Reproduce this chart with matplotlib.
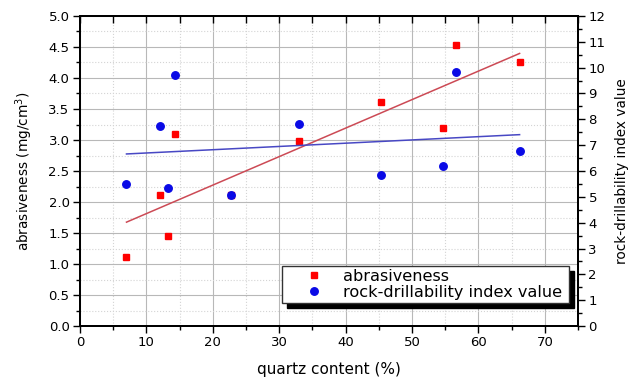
import numpy as np
import matplotlib.pyplot as plt
from matplotlib.ticker import MultipleLocator

plt.rcParams["mathtext.default"] = "regular"

# quartz content (%) of each rock sample
quartz = [7.0, 12.0, 13.3, 14.3, 22.8, 33.0, 45.4, 54.6, 56.6, 66.2]
# abrasiveness (mg/cm3), left axis
abrasiveness = [1.11, 2.11, 1.45, 3.10, 2.11, 2.99, 3.62, 3.20, 4.54, 4.25]
# rock-drillability index value, right axis
drillability = [5.51, 7.74, 5.33, 9.70, 5.06, 7.81, 5.86, 6.19, 9.83, 6.79]

RED = "#ff0000"
BLUE = "#0a0ae6"

fig = plt.figure(figsize=(6.38, 3.79), dpi=100)
ax = fig.add_axes([0.1254, 0.1398, 0.7806, 0.818])
ax2 = ax.twinx()

# linear fits drawn over the range of the samples
x_fit = np.array([min(quartz), max(quartz)])
a_fit = np.polyval(np.polyfit(quartz, abrasiveness, 1), x_fit)
d_fit = np.polyval(np.polyfit(quartz, drillability, 1), x_fit)

ax.plot(x_fit, a_fit, color="#cc4a55", lw=1.1)
h1, = ax.plot(quartz, abrasiveness, "s", color=RED, ms=5, mec=RED,
              label="abrasiveness")
ax2.plot(x_fit, d_fit, color="#4848c4", lw=1.1)
h2, = ax2.plot(quartz, drillability, "o", color=BLUE, ms=5.4, mec=BLUE,
               label="rock-drillability index value")

ax.set_xlim(0, 75)
ax.set_ylim(0, 5)
ax2.set_ylim(0, 12)

ax.xaxis.set_major_locator(MultipleLocator(10))
ax.xaxis.set_minor_locator(MultipleLocator(5))
ax.yaxis.set_major_locator(MultipleLocator(0.5))
ax.yaxis.set_minor_locator(MultipleLocator(0.25))
ax.yaxis.set_major_formatter("{x:.1f}")
ax2.yaxis.set_major_locator(MultipleLocator(1))
ax2.yaxis.set_minor_locator(MultipleLocator(0.5))

ax.grid(which="major", color="#b8b8b8", lw=0.8)
ax.grid(which="minor", color="#d4d4d4", lw=0.8, ls=":")
ax.set_axisbelow(True)

for a in (ax, ax2):
    a.tick_params(which="major", direction="out", length=5, width=1,
                  labelsize=9.5, pad=2.5)
    a.tick_params(which="minor", direction="out", length=3, width=1)
    for s in a.spines.values():
        s.set_linewidth(1.4)

# inward ticks along the top edge, every 5 %
ax2.xaxis.set_visible(True)
ax2.tick_params(axis="x", which="both", bottom=False, top=True,
                labelbottom=False, labeltop=False, direction="in",
                length=5, width=1)

ax.set_xlabel("quartz content (%)", fontsize=11, labelpad=9)
ax.set_ylabel("abrasiveness (mg/cm$^3$)", fontsize=9.8, labelpad=10)
ax2.set_ylabel("rock-drillability index value", fontsize=9.8, labelpad=7)

ax2.legend(handles=[h1, h2], loc="lower left",
           bbox_to_anchor=(0.4056, 0.0742, 0.5763, 0.1), mode="expand",
           borderaxespad=0, fontsize=11.6, handlelength=3.6,
           handletextpad=0.0, labelspacing=0.05, borderpad=0.2,
           fancybox=False, framealpha=1, edgecolor="#333333",
           shadow={"ox": 3.6, "oy": -3.6, "facecolor": "black",
                   "edgecolor": "black", "alpha": 1})

fig.savefig("out.png", dpi=100)
